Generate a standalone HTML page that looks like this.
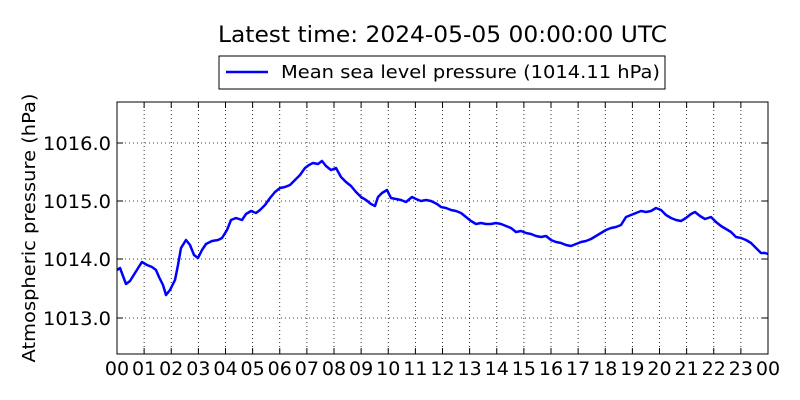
<!DOCTYPE html>
<html><head><meta charset="utf-8"><style>
body{margin:0;background:#fff;}
svg{display:block;font-family:"DejaVu Sans","Liberation Sans",sans-serif;}
</style></head><body>
<svg width="800" height="400" viewBox="0 0 800 400" xmlns="http://www.w3.org/2000/svg">
<rect width="800" height="400" fill="#fff"/>
<text x="218" y="42" font-size="22" textLength="449" lengthAdjust="spacingAndGlyphs" fill="#000">Latest time: 2024-05-05 00:00:00 UTC</text>
<rect x="219" y="56" width="446" height="33" fill="#fff" stroke="#000" stroke-width="1"/>
<line x1="226" y1="72" x2="268" y2="72" stroke="#0000ff" stroke-width="2.5"/>
<text x="281" y="78" font-size="18" textLength="379" lengthAdjust="spacingAndGlyphs" fill="#000">Mean sea level pressure (1014.11 hPa)</text>
<g stroke="#000" stroke-width="0.8" stroke-dasharray="1,3">
<line x1="117" y1="143" x2="768" y2="143"/><line x1="117" y1="201" x2="768" y2="201"/>
<line x1="117" y1="259" x2="768" y2="259"/><line x1="117" y1="318" x2="768" y2="318"/>
</g>
<g id="vgrid" stroke="#000" stroke-width="0.8" stroke-dasharray="1,3"></g>
<polyline fill="none" stroke="#0000ff" stroke-width="2.5" stroke-linejoin="round" points="117,270 120,268 126,284 130,281 135,273 140,265 142,262 147,265 152,267 156,270 159,277 163,285 166,295 170,290 175,280 178,265 181,248 186,240 190,245 194,255 198,258 202,250 206,244 212,241 218,240 222,238 227,230 231,220 236,218 242,220 246,214 251,211 256,213 260,210 265,205 270,198 275,192 280,188 285,187 290,185 295,180 300,175 305,168 309,165 313,163 318,164 322,161 326,166 331,170 336,168 341,177 346,182 351,186 356,192 361,197 366,200 371,204 375,206 378,197 382,193 387,190 391,198 396,199 401,200 406,202 412,197 416,199 421,201 426,200 431,201 437,204 441,207 446,208 451,210 456,211 461,213 466,217 471,221 476,224 481,223 486,224 491,224 496,223 501,224 506,226 511,228 516,232 521,231 526,233 531,234 536,236 541,237 546,236 551,240 556,242 561,243 566,245 571,246 576,244 581,242 586,241 591,239 596,236 601,233 606,230 611,228 616,227 621,225 626,217 631,215 636,213 641,211 646,212 651,211 656,208 661,210 666,215 671,218 676,220 681,221 686,218 691,214 695,212 700,216 705,219 711,217 716,222 721,226 726,229 731,232 736,237 741,238 746,240 751,243 756,248 761,253 765,253 768,254"/>
<rect x="117" y="102" width="651" height="252" fill="none" stroke="#000" stroke-width="1"/>
<g font-size="19" fill="#000">
<text x="43" y="150" textLength="68" lengthAdjust="spacingAndGlyphs">1016.0</text>
<text x="43" y="208" textLength="68" lengthAdjust="spacingAndGlyphs">1015.0</text>
<text x="43" y="266" textLength="68" lengthAdjust="spacingAndGlyphs">1014.0</text>
<text x="43" y="325" textLength="68" lengthAdjust="spacingAndGlyphs">1013.0</text>
</g>
<g stroke="#000" stroke-width="1">
<line x1="117" y1="143" x2="123" y2="143"/><line x1="117" y1="201" x2="123" y2="201"/><line x1="117" y1="259" x2="123" y2="259"/><line x1="117" y1="318" x2="123" y2="318"/>
<line x1="768" y1="143" x2="762" y2="143"/><line x1="768" y1="201" x2="762" y2="201"/><line x1="768" y1="259" x2="762" y2="259"/><line x1="768" y1="318" x2="762" y2="318"/>
</g>
<g id="xt" stroke="#000" stroke-width="1"></g>
<g id="xl" font-size="19" fill="#000" text-anchor="middle"></g>
<text transform="translate(35,228) rotate(-90)" font-size="18" text-anchor="middle" textLength="269" lengthAdjust="spacingAndGlyphs" fill="#000">Atmospheric pressure (hPa)</text>
<script>
var ns="http://www.w3.org/2000/svg",g=document.getElementById("vgrid"),t=document.getElementById("xt"),l=document.getElementById("xl");
for(var i=0;i<=24;i++){var x=117+i*651/24;
if(i>0&&i<24){var a=document.createElementNS(ns,"line");a.setAttribute("x1",x);a.setAttribute("x2",x);a.setAttribute("y1",102);a.setAttribute("y2",354);g.appendChild(a);}
var b=document.createElementNS(ns,"line");b.setAttribute("x1",x);b.setAttribute("x2",x);b.setAttribute("y1",348);b.setAttribute("y2",354);t.appendChild(b);
var c=document.createElementNS(ns,"line");c.setAttribute("x1",x);c.setAttribute("x2",x);c.setAttribute("y1",102);c.setAttribute("y2",108);t.appendChild(c);
var s=document.createElementNS(ns,"text");s.setAttribute("x",x);s.setAttribute("y",375);s.textContent=(i%24<10?"0":"")+(i%24);l.appendChild(s);}
</script>
</svg>
</body></html>
